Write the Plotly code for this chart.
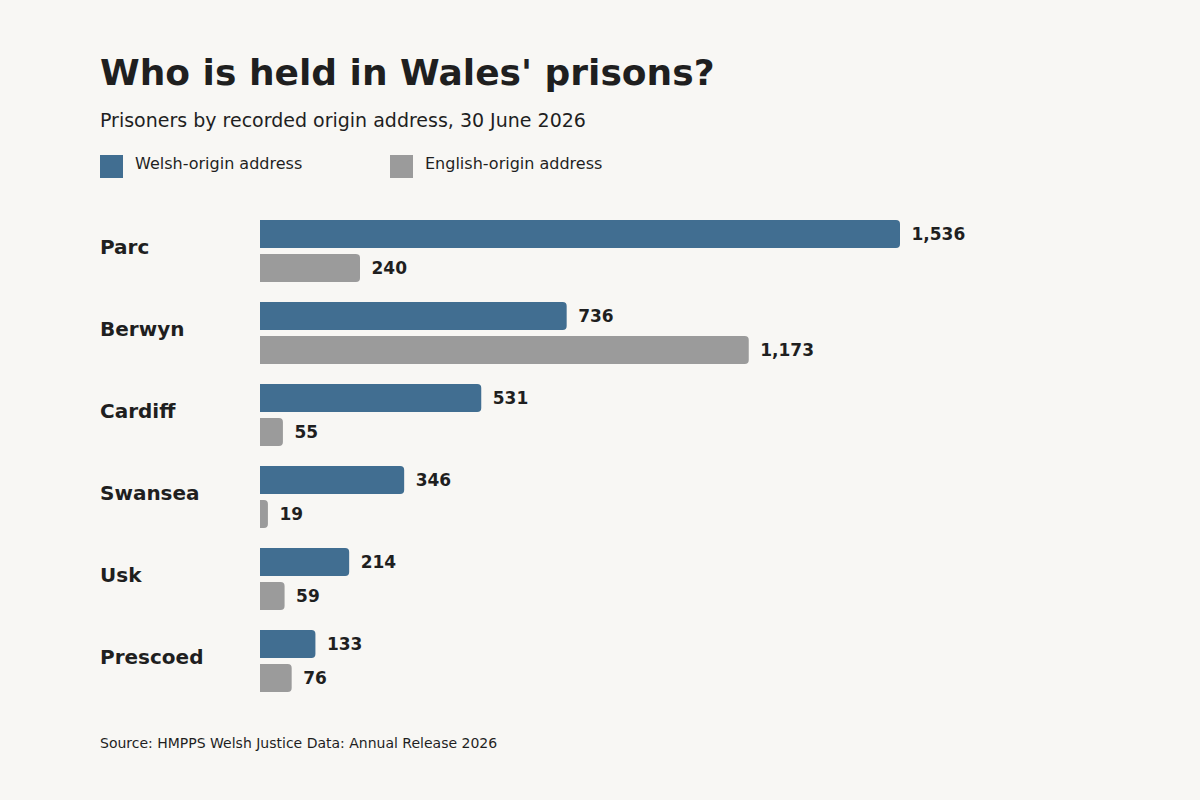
import plotly.graph_objects as go

# Data
prisons = ["Parc", "Berwyn", "Cardiff", "Swansea", "Usk", "Prescoed"]
welsh_origin = [1536, 736, 531, 346, 214, 133]
english_origin = [240, 1173, 55, 19, 59, 76]
series_names = ["Welsh-origin address", "English-origin address"]

title = "Who is held in Wales' prisons?"
subtitle = "Prisoners by recorded origin address, 30 June 2026"
source = "Source: HMPPS Welsh Justice Data: Annual Release 2026"

# Styling
BG = "#f8f7f4"
INK = "#1f1f1f"
WELSH_COL = "#416e91"
ENGLISH_COL = "#9b9b9b"
FONT = "DejaVu Sans"

W, H = 1200, 800
ML, MR, MT, MB = 260, 100, 210, 98
plot_w = W - ML - MR
plot_h = H - MT - MB


# convert page pixels to paper coordinates (for legend, titles)
def px_x(px):
    return (px - ML) / plot_w


def px_y(py):
    return (H - MB - py) / plot_h


fig = go.Figure()

for name, vals, col in [(series_names[0], welsh_origin, WELSH_COL),
                        (series_names[1], english_origin, ENGLISH_COL)]:
    fig.add_trace(go.Bar(
        y=prisons, x=vals, name=name, orientation="h",
        marker=dict(color=col, cornerradius=4, line=dict(width=0)),
        text=vals, texttemplate="\u2002%{x:,}", textposition="outside",
        textfont=dict(family=FONT, size=17, color=INK, weight="bold"),
        cliponaxis=False, showlegend=False, hoverinfo="skip",
    ))

annotations = []

# category labels
for p in prisons:
    annotations.append(dict(
        x=px_x(98), xref="paper", y=p, yref="y", yshift=4,
        text=p, showarrow=False, xanchor="left", yanchor="middle",
        font=dict(family=FONT, size=20, color=INK, weight="bold"),
    ))

# title, subtitle, source
annotations.append(dict(
    x=px_x(98), xref="paper", y=px_y(72), yref="paper", text="<b>" + title + "</b>",
    showarrow=False, xanchor="left", yanchor="middle",
    font=dict(family=FONT, size=36, color=INK),
))
annotations.append(dict(
    x=px_x(98), xref="paper", y=px_y(120), yref="paper", text=subtitle,
    showarrow=False, xanchor="left", yanchor="middle",
    font=dict(family=FONT, size=19, color=INK),
))
annotations.append(dict(
    x=px_x(98), xref="paper", y=px_y(743), yref="paper", text=source,
    showarrow=False, xanchor="left", yanchor="middle",
    font=dict(family=FONT, size=14, color=INK),
))

# custom legend
shapes = []
for (sx, tx), name, col in zip([(100, 133), (390, 423)], series_names, [WELSH_COL, ENGLISH_COL]):
    shapes.append(dict(
        type="rect", xref="paper", yref="paper",
        x0=px_x(sx), x1=px_x(sx + 23), y0=px_y(178), y1=px_y(155),
        fillcolor=col, line=dict(width=0),
    ))
    annotations.append(dict(
        x=px_x(tx), xref="paper", y=px_y(163), yref="paper", text=name,
        showarrow=False, xanchor="left", yanchor="middle",
        font=dict(family=FONT, size=16, color=INK),
    ))

fig.update_layout(
    width=W, height=H,
    margin=dict(l=ML, r=MR, t=MT, b=MB),
    paper_bgcolor=BG, plot_bgcolor=BG,
    barmode="group", bargap=0.171, bargroupgap=0.176,
    xaxis=dict(range=[0, 2016], visible=False, fixedrange=True),
    yaxis=dict(autorange="reversed", visible=False, fixedrange=True),
    annotations=annotations, shapes=shapes,
    font=dict(family=FONT, color=INK),
)

# drop the default page margin so the chart sits at the window corner
fig.write_html("out.html", config={"displayModeBar": False},
               post_script="document.body.style.margin='0';")
